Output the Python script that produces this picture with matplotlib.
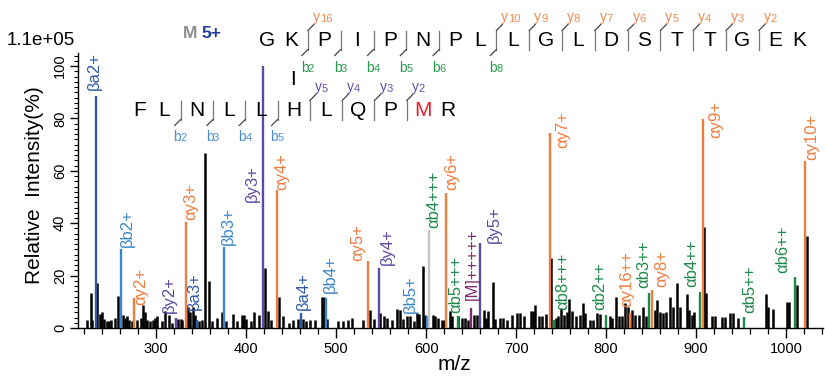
import matplotlib
matplotlib.use('Agg')
import matplotlib.pyplot as plt
from matplotlib.ticker import MultipleLocator
from matplotlib.lines import Line2D

plt.rcParams['font.family'] = ['Liberation Sans', 'DejaVu Sans']

# ---------------- data ----------------
noise_mz = [223, 227, 229, 234, 238, 240, 242, 245, 248, 250, 254, 257, 263, 265, 268, 270, 273,
            279, 283, 285, 287, 290, 293, 296, 299, 301, 306, 310, 314, 318, 324, 327, 329, 335,
            338, 341, 343, 347, 351, 354.4, 359, 362, 367, 373, 378, 385, 390, 395, 398, 400,
            405, 409, 414, 420.7, 424, 428, 436, 441, 447, 452, 457, 463, 466, 471, 476, 484,
            486, 490, 502, 508, 513, 517, 530, 538, 542, 549, 553, 556, 562, 568, 571, 574,
            579, 582, 586, 590, 592, 596, 599, 607, 610, 613, 617, 620, 626, 629, 635, 640,
            643, 647, 653, 656, 664, 666, 669, 674, 677, 682, 685, 690, 695, 701, 704, 709,
            716, 719, 721, 725, 729, 733, 739, 744, 747, 750, 753, 756, 759, 762, 766, 771,
            774, 777, 782, 785, 790, 793, 804, 807, 811, 814, 818, 821, 824, 829, 832, 836,
            840.5, 844, 854, 856.7, 860, 863, 866, 871, 874, 879, 882, 889.6, 892, 895, 898,
            909, 911, 918, 921, 929, 932, 938, 941, 946, 977.8, 980, 985, 1001, 1003, 1012,
            1023]
noise_int = [3, 13.5, 3, 17, 5.5, 6.3, 3.5, 2.5, 2.5, 3, 4, 12.3, 5, 4, 4.5, 3, 2.5,
             3, 4, 8.6, 6, 3, 2.5, 3, 4, 4.5, 2.5, 6.5, 5, 2, 3.5, 3.5, 3, 8,
             6, 8, 5, 2.5, 3, 66.8, 18, 2.5, 4, 6, 2.5, 5.5, 2.5, 5, 5, 3.5,
             2.5, 6, 5, 23, 6.5, 3, 12, 4.5, 2, 3, 3.5, 3.5, 2.5, 3, 3, 11.8,
             11.7, 3.5, 2.8, 2.5, 3, 3.8, 3, 7, 3.5, 5.7, 4.5, 4, 3, 7.2, 7, 3.5,
             4.5, 4.5, 2.5, 5.7, 5.5, 23.8, 5, 5, 4.5, 4, 3, 3, 6.4, 4.5, 4.5, 4,
             4, 3, 5, 5, 7, 4, 6.4, 17.6, 3.5, 3.8, 3.8, 3, 5, 5.7, 5.7, 4.5,
             6.4, 6.5, 8.9, 4.5, 4.5, 5.5, 26.8, 4, 4.5, 7.6, 5, 6, 11, 6.4, 4.5, 5,
             9.5, 5.7, 3, 3, 5.7, 5.5, 4.5, 4, 12, 4.5, 4.5, 9.5, 8, 7, 5, 5,
             8, 4.5, 7, 10.8, 6, 5.7, 6, 12, 8, 17, 8, 13, 7, 5, 6,
             38.7, 13.4, 4.7, 4.7, 4.2, 4.2, 5.7, 5.7, 3.8, 13, 8, 7.3, 10, 10, 16.4,
             35]

ion_labels = ['βa2+', 'βb2+', 'αy2+', 'βy2+', 'αy3+', 'βa3+', 'βb3+', 'βy3+', 'αy4+',
              'βa4+', 'βb4+', 'αy5+', 'βy4+', 'βb5+', 'αb4+++', 'αy6+', 'αb5+++',
              '[M]+++++', 'βy5+', 'αy7+', 'αb8+++', 'αb2++', 'αy16++', 'αb3++', 'αy8+',
              'αb4++', 'αy9+', 'αb5++', 'αb6++', 'αy10+']
ion_mz = [233, 261, 275.6, 322, 333, 345, 374.8, 419, 434,
          460.7, 488.5, 535, 547, 601, 603.3, 622, 635.6,
          650, 660, 737.8, 742, 799.7, 827, 848, 851.5,
          904, 907.4, 953.7, 1010, 1021]
ion_int = [88.5, 30, 11.3, 4, 40.3, 3, 31, 100, 52.7,
           5.7, 11.5, 25.6, 23, 4.5, 37.4, 51.6, 4.5,
           7.6, 32.4, 74.5, 3, 5, 5.7, 13.4, 14.5,
           13.9, 79.7, 4.3, 19.6, 63.7]
ion_kind = ['ba', 'bb', 'ay', 'by', 'ay', 'ba', 'bb', 'by', 'ay',
            'ba', 'bb', 'ay', 'by', 'bb', 'ab_gray', 'ay', 'ab',
            'M', 'by', 'ay', 'ab', 'ab', 'ay', 'ab', 'ay',
            'ab', 'ay', 'ab', 'ab', 'ay']

alpha_seq = "GKPIPNPLLGLDSTTGEK"
alpha_b = [2, 3, 4, 5, 6, 8]
alpha_y = [16, 10, 9, 8, 7, 6, 5, 4, 3, 2]
beta_seq = "FLNLLHLQPMR"
beta_b = [2, 3, 4, 5]
beta_y = [5, 4, 3, 2]
modified_beta_residue = 9  # index of M
scale_text = "1.1e+05"
precursor_charge = "5+"

# ---------------- style ----------------
# label offsets (pixels): dx from peak line, dy of label bottom above peak top
label_offsets = [(-2, 6), (6, 2), (6, -7), (-7, 5), (4.5, 2), (-2, 10), (5, 2), (-11, -136), (5, 0),
                 (2.7, 3), (4.5, 5), (-10, 0), (8.4, 3), (-17, 3), (4.3, 2), (5.7, 2.7), (-2, 3),
                 (1, 8), (14, 0), (13, -15), (9, 10), (-5.7, 5), (-4, 6), (-6, 5), (9.4, 3),
                 (-8, 5), (13, -19), (5, 4), (-12, 4), (7, 1)]
line_colors = {'ba': '#2f5aa8', 'bb': '#3b87c9', 'by': '#5e48a0', 'ay': '#f07c3e',
               'ab': '#1e8a4a', 'ab_gray': '#c4c4c4', 'M': '#7b2d6e'}
text_colors = {'ba': '#2f5aa8', 'bb': '#3b87c9', 'by': '#5e48a0', 'ay': '#f07c3e',
               'ab': '#1e8a4a', 'ab_gray': '#1e8a4a', 'M': '#7b2d6e'}

W, H = 825, 381
fig = plt.figure(figsize=(W / 100, H / 100), dpi=100)
ax = fig.add_axes([78 / W, 1 - 328 / H, (823 - 78) / W, (328 - 53) / H])

ax.vlines(noise_mz, 0, noise_int, color='black', lw=1.8, zorder=2)
for lab, mz, it, kind, (dx, dy) in zip(ion_labels, ion_mz, ion_int, ion_kind, label_offsets):
    ax.vlines(mz, 0, it, color=line_colors[kind], lw=1.7, zorder=3)
    ax.annotate(lab, xy=(mz, it), xytext=(dx, dy), textcoords='offset pixels',
                rotation=90, ha='center', va='bottom', fontsize=12,
                color=text_colors[kind], annotation_clip=False, zorder=4)

ax.set_xlim(213, 1041)
ax.set_ylim(0, 105)
ax.xaxis.set_major_locator(MultipleLocator(100))
ax.xaxis.set_minor_locator(MultipleLocator(20))
ax.yaxis.set_major_locator(MultipleLocator(20))
ax.yaxis.set_minor_locator(MultipleLocator(2))
ax.set_xticks([300, 400, 500, 600, 700, 800, 900, 1000])
ax.set_yticks([0, 20, 40, 60, 80, 100])
for s in ['top', 'right']:
    ax.spines[s].set_visible(False)
for s in ['left', 'bottom']:
    ax.spines[s].set_linewidth(1.0)
ax.tick_params(axis='x', which='major', length=7, width=1.0, labelsize=10.5, pad=3)
ax.tick_params(axis='x', which='minor', length=4, width=0.9)
ax.tick_params(axis='y', which='major', length=6, width=1.0, labelsize=10.5, pad=2)
ax.tick_params(axis='y', which='minor', length=3, width=0.8)
for t in ax.get_yticklabels():
    t.set_rotation(90)
    t.set_va('center')
ax.set_xlabel('m/z', fontsize=15)
ax.xaxis.set_label_coords((454 - 78) / 745, (328 - 355) / 275)
ax.set_ylabel('Relative  Intensity(%)', fontsize=15)
ax.yaxis.set_label_coords((44 - 78) / 745, (328 - 185) / 275)


def fx(x):
    return x / W


def fy(y):
    return 1 - y / H


fig.text(fx(7), fy(45), scale_text, fontsize=13.5, ha='left', va='baseline')
fig.text(fx(190), fy(38), 'M', fontsize=12.5, fontweight='bold', color='#8c8c8c',
         ha='center', va='baseline')
fig.text(fx(211), fy(38), precursor_charge, fontsize=12.5, fontweight='bold', color='#1e3f94',
         ha='center', va='baseline')


def draw_peptide(seq, x0, base, gap_sep, gap_plain, b_cuts, y_cuts, b_color, y_color, red=None):
    n = len(seq)
    y_cut_pos = {n - k: k for k in y_cuts}
    cuts = set(b_cuts) | set(y_cut_pos)
    xs = [x0]
    for i in range(1, n):
        xs.append(xs[-1] + (gap_sep if i in cuts else gap_plain))
    for i, ch in enumerate(seq):
        fig.text(fx(xs[i]), fy(base), ch, fontsize=15, ha='center', va='baseline',
                 color='#e8202a' if i == red else 'black')
    top, bot = base - 16, base + 3
    for c in sorted(cuts):
        xm = (xs[c - 1] + xs[c]) / 2
        fig.add_artist(Line2D([fx(xm), fx(xm)], [fy(top), fy(bot)], color='#777777', lw=0.9))
        if c in b_cuts:
            fig.add_artist(Line2D([fx(xm), fx(xm - 6)], [fy(bot), fy(bot + 6)],
                                  color='#444444', lw=0.9))
            fig.text(fx(xm - 7), fy(bot + 22), 'b', fontsize=10, color=b_color,
                     ha='left', va='baseline')
            fig.text(fx(xm), fy(bot + 22), str(c), fontsize=8, color=b_color,
                     ha='left', va='baseline')
        if c in y_cut_pos:
            fig.add_artist(Line2D([fx(xm), fx(xm + 6)], [fy(top), fy(top - 6)],
                                  color='#444444', lw=0.9))
            fig.text(fx(xm + 5), fy(top - 9), 'y', fontsize=10, color=y_color,
                     ha='left', va='baseline')
            fig.text(fx(xm + 12), fy(top - 9), str(y_cut_pos[c]), fontsize=8, color=y_color,
                     ha='left', va='baseline')
    return xs


axs = draw_peptide(alpha_seq, 267, 46.5, 32.8, 24.5, alpha_b, alpha_y, '#2a9a50', '#f08a50')
bxs = draw_peptide(beta_seq, 140, 116.5, 32.3, 24.5, beta_b, beta_y, '#4a90d0', '#6a4fa8',
                   red=modified_beta_residue)
fig.text(fx(293), fy(85), 'I', fontsize=15, ha='center', va='baseline')

fig.savefig('out.png', dpi=100)
